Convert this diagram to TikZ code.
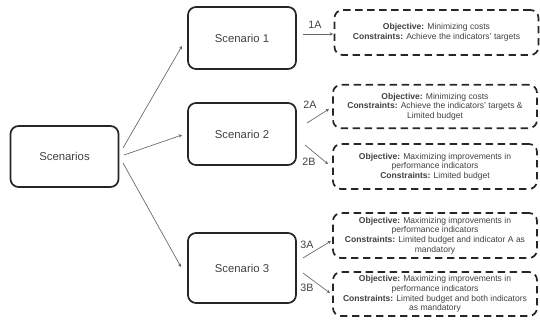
\documentclass[tikz,border=0pt]{standalone}
\usepackage{fontspec}
\setmainfont{Liberation Sans}
\usetikzlibrary{arrows.meta}
\begin{document}
\begin{tikzpicture}[x=0.75pt,y=-0.75pt,
  solidbox/.style={draw=black!85,line width=1.3pt,rounded corners=6pt,minimum width=81pt,align=center,font=\fontsize{8.5}{10}\selectfont,text=black!75},
  dashbox/.style={draw=black!85,line width=1.3pt,rounded corners=6pt,dash pattern=on 5.5pt off 3.5pt,minimum width=153pt,align=center,font=\fontsize{6.4}{7.2}\selectfont,text=black!75,inner sep=1pt},
  conn/.style={draw=black!60,line width=0.5pt,-{Stealth[length=2.5pt,width=2.5pt]}},
  lbl/.style={font=\fontsize{8}{9}\selectfont,text=black!75,inner sep=0pt}]
\useasboundingbox (0,0) rectangle (540,321);
\node[solidbox,minimum height=45.75pt] (s) at (64.5,156.5) {Scenarios};
\node[solidbox,minimum height=46.5pt] (s1) at (242,38) {Scenario 1};
\node[solidbox,minimum height=46.5pt] (s2) at (242,134) {Scenario 2};
\node[solidbox,minimum height=52.5pt] (s3) at (242,268) {Scenario 3};
\node[dashbox,minimum height=33.75pt] (b1) at (436.5,32.5) {\textbf{Objective:} Minimizing costs\\\textbf{Constraints:} Achieve the indicators' targets};
\node[dashbox,minimum height=32.5pt] (b2a) at (435,106.5) {\textbf{Objective:} Minimizing costs\\\textbf{Constraints:} Achieve the indicators' targets \&\\Limited budget};
\node[dashbox,minimum height=33.75pt] (b2b) at (435,166.5) {\textbf{Objective:} Maximizing improvements in\\performance indicators\\\textbf{Constraints:} Limited budget};
\node[dashbox,minimum height=33.75pt] (b3a) at (435,235.5) {\textbf{Objective:} Maximizing improvements in\\performance indicators\\\textbf{Constraints:} Limited budget and indicator A as\\mandatory};
\node[dashbox,minimum height=33pt] (b3b) at (435,294) {\textbf{Objective:} Maximizing improvements in\\performance indicators\\\textbf{Constraints:} Limited budget and both indicators\\as mandatory};
% connectors
\coordinate (o1) at (123,148);
\coordinate (o2) at (124,155);
\coordinate (o3) at (123,163);
\draw[conn] (o1) -- (182,46);
\draw[conn] (o2) -- (182,135);
\draw[conn] (o3) -- (181,267);
\draw[conn] (303,34) -- (333,34);
\draw[conn] (307,123) -- (329,109);
\draw[conn] (305,145) -- (328,164);
\draw[conn] (303,258) -- (331,241);
\draw[conn] (303,273) -- (330,293);
\node[lbl] (l1) at (315,25) {1A};
\node[lbl] (l2a) at (310,105) {2A};
\node[lbl] (l2b) at (309,162) {2B};
\node[lbl] (l3a) at (307,245) {3A};
\node[lbl] (l3b) at (307,288) {3B};
\end{tikzpicture}
\end{document}
